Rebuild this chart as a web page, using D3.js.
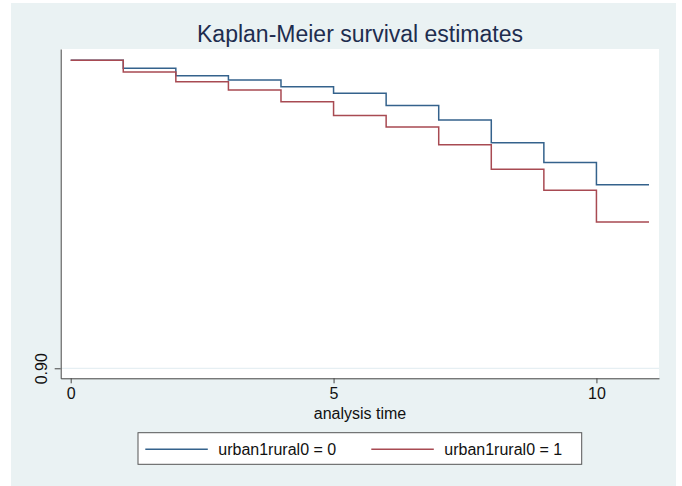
<!DOCTYPE html>
<html>
<head>
<meta charset="utf-8">
<script src="https://cdn.jsdelivr.net/npm/d3@7"></script>
<style>
  body { margin: 0; background: #ffffff; }
  text { font-family: "Liberation Sans", Arial, Helvetica, sans-serif; }
</style>
</head>
<body>
<script>
// Kaplan-Meier survival estimates, urban vs rural

// analysis time at each step, survival after that time
var times = [0, 1, 2, 3, 4, 5, 6, 7, 8, 9, 10]
var survUrban0 = [1, 0.9974, 0.9950, 0.9936, 0.9914, 0.9893, 0.9853, 0.9806, 0.9732, 0.9668, 0.9596]
var survUrban1 = [1, 0.9962, 0.9930, 0.9903, 0.9865, 0.9821, 0.9783, 0.9726, 0.9646, 0.9578, 0.9475]
var lastTime = 11
var seriesNames = ["urban1rural0 = 0", "urban1rural0 = 1"]
var xTicks = [0, 5, 10]
var yTicks = [0.90]

var colors = ["#34628c", "#a84a52"]

var width = 682, height = 486
var plot = {left: 60.7, right: 659, top: 49, bottom: 378.3}

var svg = d3.select("body").append("svg")
    .attr("width", width)
    .attr("height", height)

// graph region
svg.append("rect")
    .attr("x", 11).attr("y", 3)
    .attr("width", 665).attr("height", 483)
    .attr("fill", "#eaf2f3")

svg.append("rect")
    .attr("x", plot.left).attr("y", plot.top)
    .attr("width", plot.right - plot.left)
    .attr("height", plot.bottom - plot.top)
    .attr("fill", "#ffffff")

var x = d3.scaleLinear()
    .domain([-0.19, 11.19])
    .range([plot.left, plot.right])

var y = d3.scaleLinear()
    .domain([0.89675, 1.00365])
    .range([plot.bottom, plot.top])

// grid line at the y ticks
svg.selectAll(".grid")
    .data(yTicks)
  .enter().append("line")
    .attr("x1", plot.left).attr("x2", plot.right)
    .attr("y1", function(d) { return y(d) })
    .attr("y2", function(d) { return y(d) })
    .attr("stroke", "#e6eff3")
    .attr("stroke-width", 1.2)

// axes
var xAxis = svg.append("g")
    .attr("transform", "translate(0," + plot.bottom + ")")
    .call(d3.axisBottom(x).tickValues(xTicks).tickSize(5).tickPadding(4).tickSizeOuter(0))
xAxis.select(".domain").attr("stroke", "#444")
xAxis.selectAll(".tick line").attr("stroke", "#444")
xAxis.selectAll("text")
    .attr("fill", "#111")
    .style("font-size", "16px")

var yAxis = svg.append("g")
    .attr("transform", "translate(" + plot.left + ",0)")
    .call(d3.axisLeft(y).tickValues(yTicks).tickFormat(d3.format(".2f")).tickSize(6).tickSizeOuter(0))
yAxis.select(".domain").attr("stroke", "#444")
yAxis.selectAll(".tick line").attr("stroke", "#444")
yAxis.selectAll("text")
    .attr("fill", "#111")
    .style("font-size", "16px")
    .style("text-anchor", "middle")
    .attr("x", 0)
    .attr("y", 0)
    .attr("dy", "0")
    .attr("transform", "translate(-14,0) rotate(-90)")

// survival step lines
var line = d3.line()
    .curve(d3.curveStepAfter)
    .x(function(d) { return x(d.t) })
    .y(function(d) { return y(d.s) })

function makeSeries(surv) {
    var pts = times.map(function(t, i) { return {t: t, s: surv[i]} })
    pts.push({t: lastTime, s: surv[surv.length - 1]})
    return pts
}

var allSeries = [makeSeries(survUrban0), makeSeries(survUrban1)]

svg.selectAll(".km")
    .data(allSeries)
  .enter().append("path")
    .attr("class", "km")
    .attr("fill", "none")
    .attr("stroke", function(d, i) { return colors[i] })
    .attr("stroke-width", 1.5)
    .attr("d", line)

// titles
svg.append("text")
    .attr("x", 360).attr("y", 42)
    .attr("text-anchor", "middle")
    .attr("fill", "#1e2d4f")
    .style("font-size", "23px")
    .text("Kaplan-Meier survival estimates")

svg.append("text")
    .attr("x", 360).attr("y", 419)
    .attr("text-anchor", "middle")
    .attr("fill", "#111")
    .style("font-size", "16px")
    .text("analysis time")

// legend
var legend = svg.append("g")
legend.append("rect")
    .attr("x", 138).attr("y", 432.7)
    .attr("width", 443.7).attr("height", 31.6)
    .attr("fill", "#ffffff")
    .attr("stroke", "#555")
    .attr("stroke-width", 1)

var legendX = [145.3, 371.3]
var item = legend.selectAll(".item")
    .data(seriesNames)
  .enter().append("g")
    .attr("transform", function(d, i) { return "translate(" + legendX[i] + ",449.3)" })

item.append("line")
    .attr("x1", 0).attr("x2", 62.5)
    .attr("stroke", function(d, i) { return colors[i] })
    .attr("stroke-width", 1.5)

item.append("text")
    .attr("x", 73).attr("y", 5.8)
    .attr("fill", "#111")
    .style("font-size", "16px")
    .text(function(d) { return d })
</script>
</body>
</html>
